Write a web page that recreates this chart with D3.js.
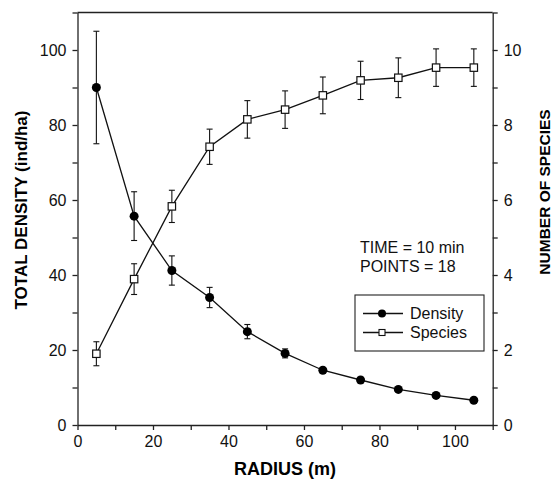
<!DOCTYPE html>
<html>
<head>
<meta charset="utf-8">
<script src="https://cdn.jsdelivr.net/npm/d3@7"></script>
<style>
  body { margin: 0; background: #fff; }
  svg { display: block; font-family: "Liberation Sans", Arial, sans-serif; }
  .axis path, .axis line { stroke: #222; stroke-width: 1.3; }
  .axis text { font-size: 16px; fill: #111; }
</style>
</head>
<body>
<svg id="chart" width="552" height="485"></svg>
<script>
// Data
const radius = [5, 15, 25, 35, 45, 55, 65, 75, 85, 95, 105];
const density = [90, 55.7, 41.2, 34.0, 24.9, 19.1, 14.6, 12.0, 9.5, 7.9, 6.6];
const densityErr = [15, 6.5, 3.9, 2.7, 1.9, 1.2, 0.7, 0.6, 0.5, 0.5, 0.4];
const species = [1.9, 3.89, 5.83, 7.42, 8.15, 8.41, 8.79, 9.19, 9.26, 9.53, 9.53];
const speciesErr = [0.32, 0.41, 0.43, 0.47, 0.5, 0.5, 0.49, 0.51, 0.53, 0.5, 0.5];
const xTicks = [0, 10, 20, 30, 40, 50, 60, 70, 80, 90, 100, 110];
const yLeftTicks = [0, 10, 20, 30, 40, 50, 60, 70, 80, 90, 100, 110];
const yRightTicks = [0, 1, 2, 3, 4, 5, 6, 7, 8, 9, 10, 11];
const notes = ['TIME = 10 min', 'POINTS = 18'];

const svg = d3.select('#chart');
const plot = { left: 77.5, right: 492.7, top: 12.5, bottom: 425 };

const x = d3.scaleLinear().domain([0, 110]).range([plot.left, plot.right]);
const yL = d3.scaleLinear().domain([0, 110]).range([plot.bottom, plot.top]);
const yR = d3.scaleLinear().domain([0, 11]).range([plot.bottom, plot.top]);

// Axes
svg.append('g')
    .attr('class', 'axis')
    .attr('transform', `translate(0,${plot.bottom})`)
    .call(d3.axisBottom(x).tickValues(xTicks).tickSize(5).tickSizeOuter(0).tickPadding(6)
        .tickFormat(d => (d % 20 === 0 && d <= 100) ? d : ''));

svg.append('g')
    .attr('class', 'axis')
    .attr('transform', `translate(${plot.left},0)`)
    .call(d3.axisLeft(yL).tickValues(yLeftTicks).tickSize(5).tickSizeOuter(0).tickPadding(6)
        .tickFormat(d => (d % 20 === 0 && d <= 100) ? d : ''));

svg.append('g')
    .attr('class', 'axis')
    .attr('transform', `translate(${plot.right},0)`)
    .call(d3.axisRight(yR).tickValues(yRightTicks).tickSize(5).tickSizeOuter(0).tickPadding(6)
        .tickFormat(d => (d % 2 === 0 && d <= 10) ? d : ''));

// Top border of the frame
svg.append('line')
    .attr('x1', plot.left).attr('x2', plot.right)
    .attr('y1', plot.top).attr('y2', plot.top)
    .attr('stroke', '#222').attr('stroke-width', 1.3);

// Axis titles
svg.append('text')
    .attr('x', (plot.left + plot.right) / 2)
    .attr('y', 475)
    .attr('text-anchor', 'middle')
    .attr('font-size', '18px')
    .attr('font-weight', 'bold')
    .text('RADIUS (m)');

svg.append('text')
    .attr('transform', 'translate(27,210) rotate(-90)')
    .attr('text-anchor', 'middle')
    .attr('font-size', '17px')
    .attr('font-weight', 'bold')
    .text('TOTAL DENSITY (ind/ha)');

svg.append('text')
    .attr('transform', 'translate(550,192) rotate(-90)')
    .attr('text-anchor', 'middle')
    .attr('font-size', '15.5px')
    .attr('font-weight', 'bold')
    .text('NUMBER OF SPECIES');

// Series
const densityPts = radius.map((r, i) => ({ x: r, y: density[i], e: densityErr[i] }));
const speciesPts = radius.map((r, i) => ({ x: r, y: species[i], e: speciesErr[i] }));

function drawErrors(pts, yScale) {
    const g = svg.append('g').attr('stroke', '#111').attr('stroke-width', 1.1);
    pts.forEach(d => {
        const y0 = yScale(d.y - d.e), y1 = yScale(d.y + d.e), cx = x(d.x);
        g.append('line').attr('x1', cx).attr('x2', cx).attr('y1', y0).attr('y2', y1);
        g.append('line').attr('x1', cx - 3).attr('x2', cx + 3).attr('y1', y0).attr('y2', y0);
        g.append('line').attr('x1', cx - 3).attr('x2', cx + 3).attr('y1', y1).attr('y2', y1);
    });
}

drawErrors(densityPts, yL);
drawErrors(speciesPts, yR);

svg.append('path')
    .datum(densityPts)
    .attr('fill', 'none').attr('stroke', '#111').attr('stroke-width', 1.3)
    .attr('d', d3.line().x(d => x(d.x)).y(d => yL(d.y)));

svg.append('path')
    .datum(speciesPts)
    .attr('fill', 'none').attr('stroke', '#111').attr('stroke-width', 1.3)
    .attr('d', d3.line().x(d => x(d.x)).y(d => yR(d.y)));

svg.selectAll('.dot')
    .data(densityPts)
    .enter().append('circle')
    .attr('cx', d => x(d.x)).attr('cy', d => yL(d.y))
    .attr('r', 4.5)
    .attr('fill', '#000');

svg.selectAll('.sq')
    .data(speciesPts)
    .enter().append('rect')
    .attr('x', d => x(d.x) - 3.7).attr('y', d => yR(d.y) - 3.7)
    .attr('width', 7.4).attr('height', 7.4)
    .attr('fill', '#fff').attr('stroke', '#111').attr('stroke-width', 1.2);

// Annotation
svg.selectAll('.note')
    .data(notes)
    .enter().append('text')
    .attr('x', 360)
    .attr('y', (d, i) => 252.5 + i * 19)
    .attr('font-size', '16px')
    .attr('fill', '#111')
    .text(d => d);

// Legend
const legend = svg.append('g');
legend.append('rect')
    .attr('x', 355).attr('y', 295).attr('width', 129).attr('height', 56)
    .attr('fill', '#fff').attr('stroke', '#222').attr('stroke-width', 1.1);

const legendRows = [{ label: 'Density', y: 313.5 }, { label: 'Species', y: 332.5 }];
legendRows.forEach((row, i) => {
    legend.append('line')
        .attr('x1', 363).attr('x2', 403).attr('y1', row.y).attr('y2', row.y)
        .attr('stroke', '#111').attr('stroke-width', 1.3);
    if (i === 0) {
        legend.append('circle').attr('cx', 382).attr('cy', row.y).attr('r', 4).attr('fill', '#000');
    } else {
        legend.append('rect').attr('x', 379).attr('y', row.y - 3).attr('width', 6).attr('height', 6)
            .attr('fill', '#fff').attr('stroke', '#111').attr('stroke-width', 1.1);
    }
    legend.append('text')
        .attr('x', 410).attr('y', row.y + 5.5)
        .attr('font-size', '16px')
        .attr('fill', '#111')
        .text(row.label);
});
</script>
</body>
</html>
